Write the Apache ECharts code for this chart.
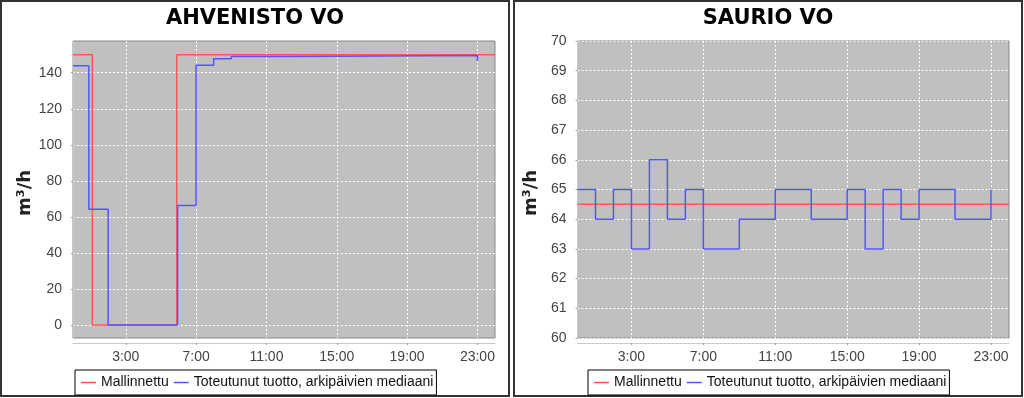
<!DOCTYPE html>
<html>
<head>
<meta charset="utf-8">
<script src="https://cdn.jsdelivr.net/npm/echarts@6/dist/echarts.min.js"></script>
<style>
    html, body { margin: 0; padding: 0; background: #fff; }
    #main { width: 1024px; height: 398px; }
</style>
</head>
<body>
<div id="main"></div>
<script>
// otsikot ja sarjojen nimet
const TITLES = ['AHVENISTO VO', 'SAURIO VO'];
const SERIES_NAMES = ['Mallinnettu', 'Toteutunut tuotto, arkipäivien mediaani'];
const X_TICKS = [3, 7, 11, 15, 19, 23];

// Ahvenisto: portaiden alkuhetket (h) ja arvot (m3/h)
const ahvModelHours = [0, 1.1, 5.9, 24];
const ahvModelValues = [150, 0, 150, 150];
const ahvMedianHours = [0, 0.9, 2, 5.95, 7, 8, 9, 12, 23];
const ahvMedianValues = [143.8, 64.3, 0, 66.3, 144.2, 147.7, 149.0, 149.5, 146.5];
const ahvYTicks = [0, 20, 40, 60, 80, 100, 120, 140];

// Saurio: tuntiarvot 0..23
const saurioModelHours = [0, 24];
const saurioModelValues = [64.5, 64.5];
const saurioMedianHours = [0, 1, 2, 3, 4, 5, 6, 7, 8, 9, 10, 11, 12, 13, 14, 15, 16, 17, 18, 19, 20, 21, 22, 23];
const saurioMedianValues = [65, 64, 65, 63, 66, 64, 65, 63, 63, 64, 64, 65, 65, 64, 64, 65, 63, 65, 64, 65, 65, 64, 64, 65];

const LABEL_FONT = '"Liberation Sans", Arial, sans-serif';
const TITLE_FONT = '"DejaVu Sans", Verdana, sans-serif';
const RED = '#ff5555';
const BLUE = '#5555ff';

function zip(xs, ys) {
    return xs.map(function (x, i) { return [x, ys[i]]; });
}

function makeXAxis(gridIndex) {
    return {
        type: 'value',
        gridIndex: gridIndex,
        min: 0,
        max: 24,
        offset: 5,
        axisLine: { show: true, onZero: false, lineStyle: { color: '#c8c8c8', width: 1 } },
        axisTick: { show: true, length: 2, customValues: X_TICKS, lineStyle: { color: '#a0a0a0' } },
        axisLabel: {
            customValues: X_TICKS,
            margin: 7,
            color: '#444',
            fontFamily: LABEL_FONT,
            fontSize: 14,
            formatter: function (v) { return v + ':00'; }
        },
        splitLine: { show: true, lineStyle: { color: '#ffffff', type: [2, 2], width: 1 } }
    };
}

function makeYAxis(gridIndex, extra) {
    let axis = {
        type: 'value',
        gridIndex: gridIndex,
        offset: 4,
        name: 'm³/h',
        nameLocation: 'middle',
        nameGap: 33,
        nameRotate: 90,
        nameTextStyle: { fontFamily: TITLE_FONT, fontWeight: 'bold', fontSize: 18, color: '#222', padding: [0, 7, 0, 0] },
        axisLine: { show: true, lineStyle: { color: '#c8c8c8', width: 1 } },
        axisTick: { show: true, length: 2, lineStyle: { color: '#a0a0a0' } },
        axisLabel: { margin: 7, color: '#444', fontFamily: LABEL_FONT, fontSize: 14 },
        splitLine: { show: true, lineStyle: { color: '#ffffff', type: [2, 2], width: 1 } }
    };
    return Object.assign(axis, extra);
}

function makeSeries(name, color, data, index) {
    return {
        name: name,
        type: 'line',
        xAxisIndex: index,
        yAxisIndex: index,
        data: data,
        step: 'end',
        symbol: 'none',
        lineStyle: { color: color, width: 1.5 },
        itemStyle: { color: color }
    };
}

function makeLegend(left) {
    return {
        left: left,
        top: 370,
        orient: 'horizontal',
        data: SERIES_NAMES,
        icon: 'rect',
        itemWidth: 15,
        itemHeight: 1.5,
        itemGap: 5,
        padding: [4, 3, 4, 6],
        borderColor: '#000',
        borderWidth: 1,
        selectedMode: false,
        textStyle: { fontFamily: LABEL_FONT, fontSize: 14, color: '#111', lineHeight: 17 }
    };
}

function makeTitle(text, centerX) {
    return {
        text: text,
        left: centerX,
        top: 3,
        textAlign: 'center',
        textStyle: { fontFamily: TITLE_FONT, fontWeight: 'bold', fontSize: 21, color: '#000' }
    };
}

var chart = echarts.init(document.getElementById('main'), null, { renderer: 'canvas' });

var gridStyle = { show: true, backgroundColor: '#c0c0c0', borderColor: '#888', borderWidth: 1, containLabel: false };

var option = {
    animation: false,
    backgroundColor: '#fff',
    title: [makeTitle(TITLES[0], 250), makeTitle(TITLES[1], 763)],
    legend: [makeLegend(75), makeLegend(588)],
    grid: [
        Object.assign({ left: 73, top: 41, width: 422, height: 297 }, gridStyle),
        Object.assign({ left: 577.5, top: 41, width: 431.5, height: 297 }, gridStyle)
    ],
    xAxis: [makeXAxis(0), makeXAxis(1)],
    yAxis: [
        makeYAxis(0, { min: -7.2, max: 157.6, axisTick: { show: true, length: 2, customValues: ahvYTicks, lineStyle: { color: '#a0a0a0' } },
            axisLabel: { customValues: ahvYTicks, margin: 7, color: '#444', fontFamily: LABEL_FONT, fontSize: 14 } }),
        makeYAxis(1, { min: 60, max: 70, interval: 1 })
    ],
    graphic: [
        // paneelien kehykset
        { type: 'rect', shape: { x: 1, y: 1, width: 508, height: 395 }, style: { fill: 'none', stroke: '#333', lineWidth: 2 }, silent: true },
        { type: 'rect', shape: { x: 514, y: 1, width: 508, height: 395 }, style: { fill: 'none', stroke: '#333', lineWidth: 2 }, silent: true }
    ],
    series: [
        makeSeries(SERIES_NAMES[0], RED, zip(ahvModelHours, ahvModelValues), 0),
        makeSeries(SERIES_NAMES[1], BLUE, zip(ahvMedianHours, ahvMedianValues), 0),
        makeSeries(SERIES_NAMES[0], RED, zip(saurioModelHours, saurioModelValues), 1),
        makeSeries(SERIES_NAMES[1], BLUE, zip(saurioMedianHours, saurioMedianValues), 1)
    ]
};

chart.setOption(option);
</script>
</body>
</html>
